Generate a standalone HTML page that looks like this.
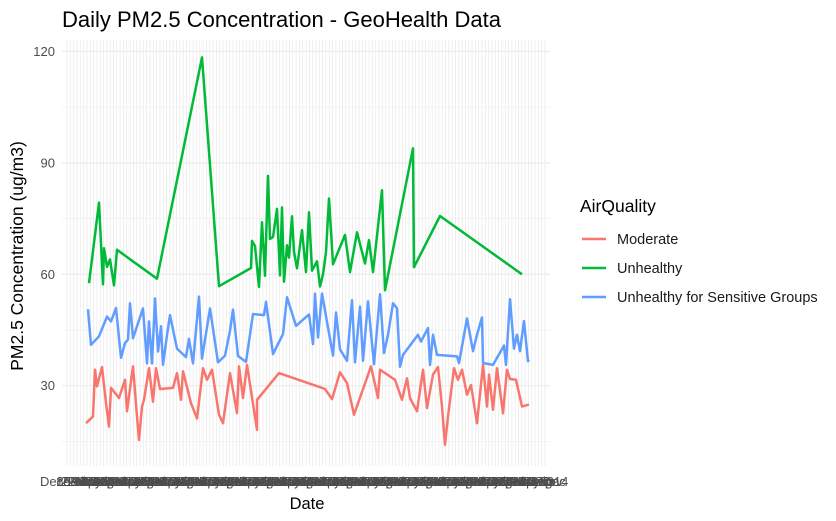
<!DOCTYPE html>
<html><head><meta charset="utf-8"><style>
body{margin:0;background:#fff;}
svg{display:block;font-family:"Liberation Sans",sans-serif;}
</style></head><body>
<svg id="chart" width="836" height="521">
<text x="62" y="27" font-size="22" fill="#000">Daily PM2.5 Concentration - GeoHealth Data</text>
<text transform="translate(23,256) rotate(-90)" text-anchor="middle" font-size="17.5" fill="#000">PM2.5 Concentration (ug/m3)</text>
<text x="307" y="509" text-anchor="middle" font-size="16.5" fill="#000">Date</text>
<g id="grid"></g><g id="yticks"></g><g id="xticks"></g><g id="series"></g>
<g>
<text x="580" y="212" font-size="17.5" fill="#000">AirQuality</text>
<g><line x1="582" y1="239" x2="606" y2="239" stroke="#F8766D" stroke-width="2.5"/><text x="617" y="244" font-size="14.5" fill="#1a1a1a">Moderate</text></g>
<g><line x1="582" y1="268" x2="606" y2="268" stroke="#00BA38" stroke-width="2.5"/><text x="617" y="273" font-size="14.5" fill="#1a1a1a">Unhealthy</text></g>
<g><line x1="582" y1="297" x2="606" y2="297" stroke="#619CFF" stroke-width="2.5"/><text x="617" y="302" font-size="14.5" fill="#1a1a1a">Unhealthy for Sensitive Groups</text></g>
</g>
</svg>
<script>
// Data: day offsets and PM2.5 values
const yTicks=[30,60,90,120];
const yMinor=[15,45,75,105];
const greenDays=[27,37,41,42,45,48,52,55,95,140,157,189,190,193,197,200,203,206,208,211,215,218,220,222,225,227,230,232,235,240,244,247,250,255,258,261,264,267,271,283,288,295,303,307,311,320,323,351,352,378,460];
const greenVals=[57.6,79.3,57.3,67,62,64,57,66.6,58.8,118.4,56.8,61.7,69,67.6,56.6,74,59.6,86.5,69.5,70,77.6,59.7,78,58,67.8,64.5,75.6,66,61.6,71.9,60.6,76.7,61,63.5,56.7,60,66,80.4,62.7,70.6,60.6,71.3,62.9,69.2,60.6,82.6,55.7,93.9,61.9,75.7,60];
const blueDays=[26,29,37,45,49,54,59,63,66,68,71,81,85,87,90,93,96,99,101,105,108,115,124,127,131,137,140,148,156,163,168,171,176,184,191,202,204,211,221,225,234,247,251,253,256,260,271,274,278,285,290,293,298,301,306,312,318,322,326,331,335,338,341,356,359,366,368,371,375,395,397,405,411,415,420,421,431,442,444,448,452,455,458,462,466,467];
const blueVals=[50.6,41,43.3,48.6,47.3,50.9,37.5,41.5,42.4,52.2,42.8,50.8,36,47.3,36,53.5,39.2,46,35.6,43.6,49,40,37.7,42.6,36,54,37.3,50.8,36.3,38.1,44.8,50.5,38,36.4,49.3,49,52.6,38.5,43.9,53.8,46.1,49.2,41.2,54.8,43,54.8,38.1,49.7,39.8,36.7,53,36.3,51.3,36.7,52.7,35.8,54.6,38.8,43.7,52.2,50.8,35.1,38.3,43.7,41.9,45.5,35.6,43.7,38.3,37.9,36.1,48.1,39.3,43.7,48.4,36.1,35.6,40.8,35.6,53.3,40,43.7,39.3,47.4,36.6,37];
const redDays=[24,31,33,35,40,44,47,49,57,63,65,71,75,77,80,82,87,91,94,98,111,115,119,121,129,135,141,145,150,157,161,168,175,177,181,185,195,195,217,258,263,270,278,285,292,309,316,318,333,340,345,348,355,361,365,371,376,380,383,386,392,396,400,405,409,415,421,425,427,431,435,441,445,448,454,460,467];
const redVals=[19.9,21.7,34.3,29.8,35,25.3,19,29.4,26.7,31.6,23.1,35.2,21.7,15.4,24.4,26.2,34.7,25.7,34.7,29.1,29.4,33.4,26.2,33.9,25.3,21.2,34.7,31.6,34.3,22.2,19.9,33.4,22.6,35.2,26.7,35.6,18.1,26.2,33.4,29.6,29.1,26.4,33.6,30.7,22.2,35.2,26.7,34.3,31.6,26.2,32,26.7,23.1,34.3,24,33,35,24.4,14.1,21.7,34.7,31.6,34.3,27.6,30.2,19.9,35.6,24.4,33,23.5,34.7,22.6,34.3,31.8,31.6,24.4,24.9];
const xLabels=["Jan","Feb","Mar","Apr","May","Jun","Jul","Aug","Sep","Oct","Nov","Dec"];

const NS="http://www.w3.org/2000/svg";
const L=62,R=550,T=40,B=466;
const X0=62;
function xs(d){return X0+d;}
function ys(v){return 385.7-(v-30)*3.714;}
function el(tag,attrs,parent){const e=document.createElementNS(NS,tag);for(const k in attrs)e.setAttribute(k,attrs[k]);parent.appendChild(e);return e;}
const grid=document.getElementById('grid');
for(let x=67;x<=548;x+=3.32){
  const g=el('line',{x1:x,x2:x,y1:T,y2:B,stroke:'#ebebeb','stroke-width':0.8},grid);
  
  
}
yMinor.forEach(v=>{
  const g=el('line',{x1:L,x2:R,y1:ys(v),y2:ys(v),stroke:'#f0f0f0','stroke-width':0.8},grid);
  
  
});
const yt=document.getElementById('yticks');
yTicks.forEach(v=>{
  const g=el('line',{x1:L,x2:R,y1:ys(v),y2:ys(v),stroke:'#ebebeb','stroke-width':1.2},grid);
  
  
  const t=el('text',{x:55,y:ys(v)+4.5,'text-anchor':'end','font-size':13,fill:'#4d4d4d'},yt);
  t.textContent=v;
  
  
});
// overlapping x labels
const xt=document.getElementById('xticks');
for(let i=0;i<145;i++){
  const x=70+i*3.32;
  const t=el('text',{x:x,y:486,'text-anchor':'middle','font-size':13,fill:'#4d4d4d'},xt);
  t.textContent=(i===0?'December':(i===144?'2-2014':(1+(i*7)%28)+'-'+xLabels[i%12]));
  
  
}
const ser=document.getElementById('series');
function line(days,vals,color,name){
  const d=days.map((dd,i)=>(i?'L':'M')+xs(dd).toFixed(1)+','+ys(vals[i]).toFixed(1)).join(' ');
  const p=el('path',{d:d,fill:'none',stroke:color,'stroke-width':2.5,'stroke-linejoin':'round'},ser);
  
  
}
line(redDays,redVals,'#F8766D','moderate-line');
line(greenDays,greenVals,'#00BA38','unhealthy-line');
line(blueDays,blueVals,'#619CFF','sensitive-groups-line');
</script>
</body></html>
